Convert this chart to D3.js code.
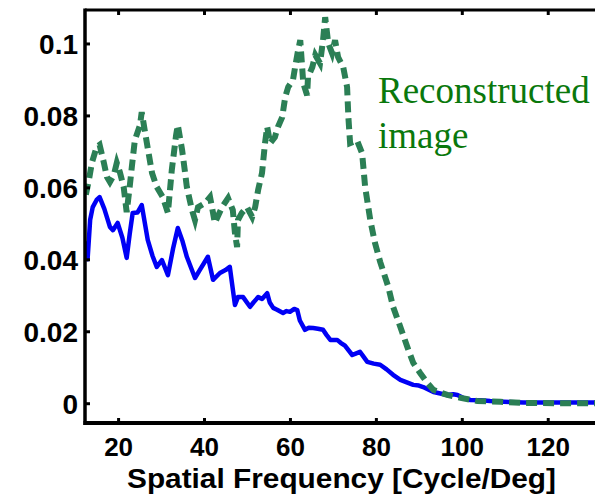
<!DOCTYPE html>
<html>
<head>
<meta charset="utf-8">
<script src="https://cdn.jsdelivr.net/npm/d3@7/dist/d3.min.js"></script>
<style>
  html, body { margin: 0; padding: 0; background: #fff; }
  svg { display: block; }
</style>
</head>
<body>
<svg id="chart" width="595" height="497"></svg>
<script>
// ---- data ----
const xTicks = [20, 40, 60, 80, 100, 120];
const yTicks = [0, 0.02, 0.04, 0.06, 0.08, 0.1];
const yTickLabels = ["0", "0.02", "0.04", "0.06", "0.08", "0.1"];
const xLabel = "Spatial Frequency [Cycle/Deg]";
const annotation = ["Reconstructed", "image"];

// original image spectrum (solid blue)
const originalFreq = [12.4, 12.9, 13.5, 14.1, 15.0, 15.7, 16.8, 18.1, 18.8, 19.9, 21.0, 22.0, 22.7, 23.4, 24.5, 25.5, 26.9, 28.0, 29.0, 30.2, 31.6, 32.8, 33.9, 35.0, 36.0, 37.9, 39.0, 40.9, 42.1, 43.7, 45.0, 46.0, 47.2, 47.9, 49.1, 50.7, 51.5, 52.6, 53.5, 54.7, 55.3, 56.1, 57.0, 58.4, 59.2, 60.0, 61.0, 61.7, 62.3, 63.5, 64.4, 65.4, 66.5, 67.7, 68.5, 69.4, 71.0, 71.8, 72.8, 74.5, 75.3, 76.3, 77.2, 78.0, 79.5, 81.0, 82.5, 84.0, 85.7, 87.2, 88.7, 90.0, 91.0, 92.2, 93.4, 95.0, 96.6, 98.0, 99.0, 100.5, 102.0, 104.5, 106.6, 109.7, 114.3, 118.0, 122.3, 126.0, 131.0];
const originalPower = [0.045, 0.040, 0.051, 0.0545, 0.0565, 0.0573, 0.054, 0.049, 0.0481, 0.0501, 0.046, 0.0404, 0.047, 0.0529, 0.053, 0.0551, 0.0454, 0.041, 0.0379, 0.0398, 0.0356, 0.043, 0.0487, 0.045, 0.0407, 0.0348, 0.0370, 0.0407, 0.0343, 0.0362, 0.037, 0.0379, 0.0273, 0.0295, 0.0295, 0.0268, 0.028, 0.0295, 0.029, 0.0306, 0.028, 0.0265, 0.026, 0.0251, 0.0256, 0.0254, 0.0262, 0.0259, 0.023, 0.0204, 0.021, 0.0209, 0.0207, 0.0204, 0.019, 0.0176, 0.0176, 0.0168, 0.016, 0.0134, 0.0138, 0.0143, 0.0128, 0.0115, 0.011, 0.0107, 0.0094, 0.0079, 0.0065, 0.0058, 0.0051, 0.0049, 0.0045, 0.0038, 0.0031, 0.0027, 0.0023, 0.0025, 0.0023, 0.0014, 0.0009, 0.0008, 0.0006, 0.0004, 0.0002, 0.0002, 0.0002, 0.0002, 0.0002];

// reconstructed image spectrum (dashed green)
const reconFreq = [12.5, 13.2, 13.9, 15.0, 15.7, 16.7, 17.4, 18.1, 19.0, 19.7, 20.4, 21.3, 22.0, 22.7, 23.2, 23.9, 25.1, 25.5, 26.7, 27.9, 29.0, 30.4, 31.6, 32.5, 33.5, 33.9, 34.9, 35.6, 36.0, 37.2, 37.9, 38.6, 40.2, 41.4, 42.1, 42.5, 44.2, 45.6, 46.7, 47.2, 47.7, 47.9, 48.8, 50.0, 51.2, 51.9, 52.6, 53.5, 54.2, 54.7, 55.4, 56.5, 57.2, 58.2, 58.9, 59.6, 60.7, 61.2, 61.9, 62.4, 63.1, 64.0, 64.2, 65.2, 65.9, 67.0, 67.7, 68.2, 68.9, 69.8, 70.5, 71.2, 72.4, 73.3, 73.6, 74.0, 75.6, 76.8, 77.5, 78.7, 79.8, 81.0, 82.9, 84.0, 85.7, 87.3, 88.7, 90.3, 92.0, 93.4, 96.6, 99.7, 103.6, 109.0, 114.3, 122.3, 131.0];
const reconPower = [0.058, 0.062, 0.0668, 0.0712, 0.0718, 0.0668, 0.0629, 0.0615, 0.0634, 0.0668, 0.0643, 0.0601, 0.0531, 0.0601, 0.0657, 0.0731, 0.0773, 0.0809, 0.0723, 0.0640, 0.0601, 0.0573, 0.0529, 0.0648, 0.0745, 0.0773, 0.0704, 0.0640, 0.0601, 0.0537, 0.0509, 0.0545, 0.0556, 0.0573, 0.0529, 0.0501, 0.0545, 0.0570, 0.0537, 0.0473, 0.0434, 0.0509, 0.0529, 0.0545, 0.0518, 0.0545, 0.0593, 0.0640, 0.0723, 0.0768, 0.0723, 0.0740, 0.0768, 0.0795, 0.0851, 0.0879, 0.0898, 0.0934, 0.0981, 0.1009, 0.0890, 0.0856, 0.0906, 0.0934, 0.0968, 0.0945, 0.1009, 0.1073, 0.1001, 0.0973, 0.1009, 0.0962, 0.0934, 0.0879, 0.0795, 0.0723, 0.0731, 0.0695, 0.0601, 0.0509, 0.0445, 0.0393, 0.0323, 0.0268, 0.0212, 0.0157, 0.0112, 0.0084, 0.0056, 0.0037, 0.0023, 0.0015, 0.0006, 0.0004, 0.0001, 0.0000, 0.0000];

// ---- layout ----
const svg = d3.select("#chart");
const plot = { left: 85, right: 595, top: 10, bottom: 423 };

const x = d3.scaleLinear().domain([12.3, 131]).range([plot.left, plot.right]);
const y = d3.scaleLinear().domain([-0.0055, 0.1093]).range([plot.bottom, plot.top]);

svg.append("defs").append("clipPath").attr("id", "clip")
  .append("rect")
  .attr("x", plot.left).attr("y", plot.top)
  .attr("width", plot.right - plot.left).attr("height", plot.bottom - plot.top);

const line = d3.line().x(d => x(d[0])).y(d => y(d[1]));

const original = originalFreq.map((f, i) => [f, originalPower[i]]);
const recon = reconFreq.map((f, i) => [f, reconPower[i]]);

const g = svg.append("g").attr("clip-path", "url(#clip)");
g.append("path").datum(original)
  .attr("d", line)
  .attr("fill", "none")
  .attr("stroke", "#0000f5")
  .attr("stroke-width", 4.5)
  .attr("stroke-linejoin", "round");

g.append("path").datum(recon)
  .attr("d", line)
  .attr("fill", "none")
  .attr("stroke", "#2b7f55")
  .attr("stroke-width", 6)
  .attr("stroke-dasharray", "11,6");

// ---- axes ----
const fontTick = "'Liberation Sans', Arial, sans-serif";

const xAxis = svg.append("g")
  .attr("transform", `translate(0,${plot.bottom})`)
  .call(d3.axisBottom(x).tickValues(xTicks).tickSize(-5).tickSizeOuter(0).tickFormat(d3.format("d")));
xAxis.select(".domain").remove();
xAxis.selectAll(".tick line").attr("stroke", "#000").attr("stroke-width", 3);
xAxis.selectAll(".tick text")
  .attr("y", 33).attr("dy", null)
  .attr("font-family", fontTick).attr("font-weight", "bold").attr("font-size", 26)
  .attr("fill", "#000");

const xTop = svg.append("g")
  .attr("transform", `translate(0,${plot.top})`)
  .call(d3.axisTop(x).tickValues(xTicks).tickSize(-5).tickSizeOuter(0).tickFormat(""));
xTop.select(".domain").remove();
xTop.selectAll(".tick line").attr("stroke", "#000").attr("stroke-width", 3);

const yAxis = svg.append("g")
  .attr("transform", `translate(${plot.left},0)`)
  .call(d3.axisLeft(y).tickValues(yTicks).tickSize(-5).tickSizeOuter(0)
    .tickFormat((d, i) => yTickLabels[i]));
yAxis.select(".domain").remove();
yAxis.selectAll(".tick line").attr("stroke", "#000").attr("stroke-width", 3);
yAxis.selectAll(".tick text")
  .attr("x", -7).attr("dy", 10.5)
  .attr("font-family", fontTick).attr("font-weight", "bold").attr("font-size", 28)
  .attr("fill", "#000");

// frame lines (left, top, bottom)
svg.append("line").attr("x1", plot.left).attr("x2", plot.left)
  .attr("y1", plot.top - 1.5).attr("y2", plot.bottom + 2)
  .attr("stroke", "#000").attr("stroke-width", 3.5);
svg.append("line").attr("x1", plot.left).attr("x2", plot.right)
  .attr("y1", plot.top).attr("y2", plot.top)
  .attr("stroke", "#000").attr("stroke-width", 3);
svg.append("line").attr("x1", plot.left - 1.5).attr("x2", plot.right)
  .attr("y1", plot.bottom).attr("y2", plot.bottom)
  .attr("stroke", "#000").attr("stroke-width", 4);

// x-axis label
svg.append("text")
  .attr("x", 341.5)
  .attr("y", 488)
  .attr("text-anchor", "middle")
  .attr("font-family", fontTick).attr("font-weight", "bold").attr("font-size", 28)
  .attr("textLength", 429).attr("lengthAdjust", "spacingAndGlyphs")
  .attr("fill", "#000")
  .text(xLabel);

// annotation
const ann = svg.append("text")
  .attr("font-family", "'Liberation Serif', 'Times New Roman', serif")
  .attr("font-size", 37)
  .attr("fill", "#0a780c");
ann.append("tspan").attr("x", 378).attr("y", 103).text(annotation[0]);
ann.append("tspan").attr("x", 378).attr("y", 148).text(annotation[1]);
</script>
</body>
</html>
